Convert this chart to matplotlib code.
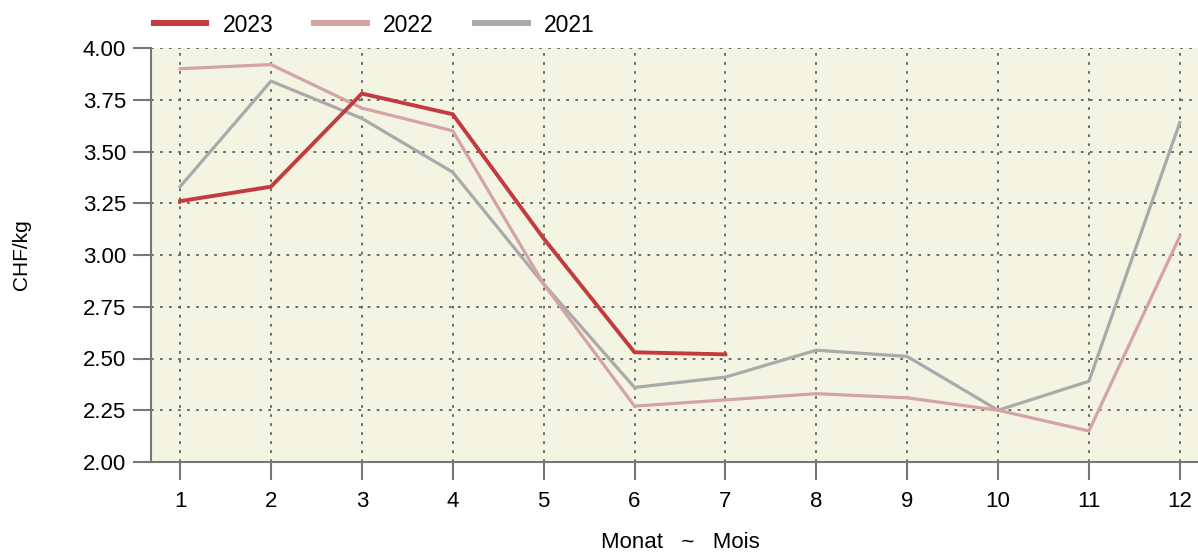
import matplotlib.pyplot as plt

# Monthly prices CHF/kg
months = [1, 2, 3, 4, 5, 6, 7, 8, 9, 10, 11, 12]
price_2023 = [3.26, 3.33, 3.78, 3.68, 3.08, 2.53, 2.52]
price_2022 = [3.90, 3.92, 3.71, 3.60, 2.86, 2.27, 2.30, 2.33, 2.31, 2.25, 2.15, 3.09]
price_2021 = [3.33, 3.84, 3.66, 3.40, 2.86, 2.36, 2.41, 2.54, 2.51, 2.25, 2.39, 3.64]
y_ticks = [2.00, 2.25, 2.50, 2.75, 3.00, 3.25, 3.50, 3.75, 4.00]

plt.rcParams['font.family'] = ['Liberation Sans', 'DejaVu Sans']

fig = plt.figure(figsize=(11.98, 5.53), dpi=100)
ax = fig.add_axes([151 / 1198, 1 - 462 / 553, 1 - 151 / 1198, (462 - 48) / 553])
ax.set_facecolor('#f3f4e2')

ax.plot(months[:len(price_2021)], price_2021, color='#aaaaaa', lw=2.3, label='2021', zorder=3)
ax.plot(months[:len(price_2022)], price_2022, color='#d4a3a3', lw=2.3, label='2022', zorder=4)
ax.plot(months[:len(price_2023)], price_2023, color='#c33b3e', lw=2.8, label='2023', zorder=5)

ax.set_xlim(0.68, 12.2)
ax.set_ylim(2.0, 4.0)
ax.set_xticks(months)
ax.set_yticks(y_ticks)
ax.set_yticklabels([f'{v:.2f}' for v in y_ticks])
ax.grid(True, linestyle=(0, (1.5, 3.5)), color='#606060', lw=1.3)
ax.set_axisbelow(True)

for side in ['top', 'right']:
    ax.spines[side].set_visible(False)
for side in ['left', 'bottom']:
    ax.spines[side].set_color('#777777')
    ax.spines[side].set_linewidth(1.5)
ax.tick_params(axis='both', length=13, width=1.5, color='#777777', labelsize=16, pad=5)
ax.tick_params(axis='x', pad=8)

fig.text(22 / 1198, 1 - 255 / 553, 'CHF/kg', rotation=90, ha='center', va='center', fontsize=15)
fig.text(680 / 1198, 1 - 543 / 553, 'Monat   ~   Mois', ha='center', va='center', fontsize=16)

handles, labels = ax.get_legend_handles_labels()
order = [2, 1, 0]
fig.legend([handles[i] for i in order], [labels[i] for i in order],
           loc='center left', bbox_to_anchor=(133 / 1198, 1 - 25 / 553),
           ncol=3, frameon=False, fontsize=16.5, handlelength=2.3,
           columnspacing=1.8, handletextpad=0.7)
for line in fig.legends[0].get_lines():
    line.set_linewidth(4.3)

fig.savefig('out.png', dpi=100)
